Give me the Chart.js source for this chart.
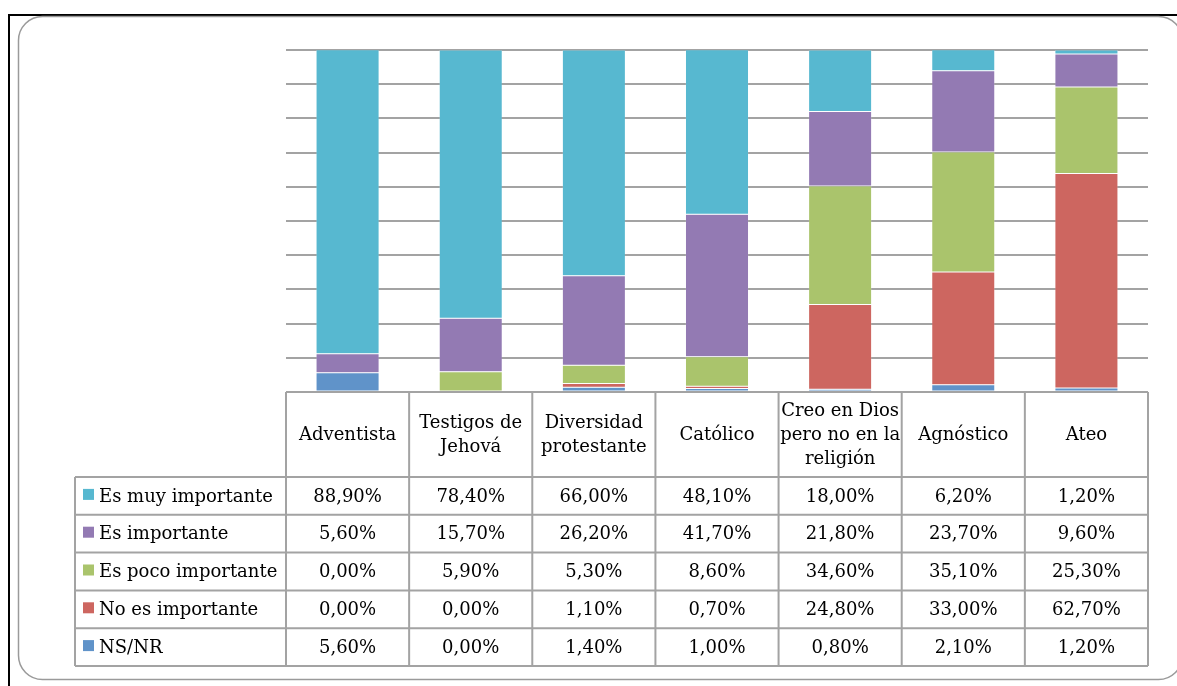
<!DOCTYPE html>
<html lang="es">
<head>
<meta charset="UTF-8">
<title>Importancia de la religión</title>
<script src="https://cdn.jsdelivr.net/npm/chart.js@4"></script>
<style>
  * { margin: 0; padding: 0; }
  body { background: #fff; width: 1177px; height: 686px; overflow: hidden; }
  #wrap { position: relative; width: 1177px; height: 686px; }
</style>
</head>
<body>
<div id="wrap"><canvas id="chart" width="1177" height="686"></canvas></div>
<script>
// ---------- data ----------
const categories = [
  ['Adventista'],
  ['Testigos de', 'Jehová'],
  ['Diversidad', 'protestante'],
  ['Católico'],
  ['Creo en Dios', 'pero no en la', 'religión'],
  ['Agnóstico'],
  ['Ateo'],
];
const muyImportante  = [88.9, 78.4, 66.0, 48.1, 18.0, 6.2, 1.2];
const importante     = [5.6, 15.7, 26.2, 41.7, 21.8, 23.7, 9.6];
const pocoImportante = [0.0, 5.9, 5.3, 8.6, 34.6, 35.1, 25.3];
const noImportante   = [0.0, 0.0, 1.1, 0.7, 24.8, 33.0, 62.7];
const nsnr           = [5.6, 0.0, 1.4, 1.0, 0.8, 2.1, 1.2];

const seriesLabels = ['Es muy importante', 'Es importante', 'Es poco importante', 'No es importante', 'NS/NR'];
const seriesData   = [muyImportante, importante, pocoImportante, noImportante, nsnr];
const seriesColors = ['#57b8d0', '#937ab3', '#aac46c', '#cd6660', '#6093c9'];

const FONT = '18px "DejaVu Serif", serif';
const LINE = '#a3a3a3';

const fmt = v => v.toFixed(2).replace('.', ',') + '%';

// stacked bottom -> top is reverse of table order
const datasets = seriesLabels.map((label, i) => ({
  label,
  data: seriesData[i],
  backgroundColor: seriesColors[i],
  borderColor: 'rgba(255,255,255,0.35)',
  borderWidth: 0.5,
  borderSkipped: false,
  categoryPercentage: 1,
  barPercentage: 0.512,
})).reverse();

// ---------- frame + data table plugin ----------
const tablePlugin = {
  id: 'dataTable',
  beforeDraw(chart) {
    const ctx = chart.ctx;
    ctx.save();
    ctx.fillStyle = '#fff';
    ctx.fillRect(0, 0, chart.width, chart.height);
    // outer black frame (top + left)
    ctx.strokeStyle = '#000';
    ctx.lineWidth = 2;
    ctx.beginPath();
    ctx.moveTo(9, 686); ctx.lineTo(9, 15); ctx.lineTo(1177, 15);
    ctx.stroke();
    // grey rounded border
    ctx.strokeStyle = '#9a9a9a';
    ctx.lineWidth = 1.5;
    ctx.beginPath();
    ctx.roundRect(18.5, 16.5, 1164, 663, 24);
    ctx.stroke();
    ctx.restore();
  },
  afterDraw(chart) {
    const ctx = chart.ctx;
    const xs = chart.scales.x;
    const area = chart.chartArea;
    const n = categories.length;
    const colW = (area.right - area.left) / n;
    const edges = [];
    for (let i = 0; i <= n; i++) edges.push(area.left + i * colW);

    const headTop = area.bottom;
    const headBot = 477;
    const rowH = 37.8;
    const rowTops = seriesLabels.map((_, r) => headBot + r * rowH);
    const tableBot = headBot + seriesLabels.length * rowH;
    const legLeft = 75;

    ctx.save();
    ctx.strokeStyle = LINE;
    ctx.lineWidth = 2;
    ctx.beginPath();
    // horizontal lines
    ctx.moveTo(area.left, headTop); ctx.lineTo(area.right, headTop);
    for (let r = 0; r <= seriesLabels.length; r++) {
      const y = headBot + r * rowH;
      ctx.moveTo(legLeft, y); ctx.lineTo(area.right, y);
    }
    // vertical lines
    edges.forEach(x => { ctx.moveTo(x, headTop); ctx.lineTo(x, tableBot); });
    ctx.moveTo(legLeft, headBot); ctx.lineTo(legLeft, tableBot);
    ctx.stroke();

    ctx.fillStyle = '#000';
    ctx.font = FONT;
    ctx.textAlign = 'center';
    ctx.textBaseline = 'middle';

    // header labels
    const headMid = (headTop + headBot) / 2 + 1;
    categories.forEach((lines, i) => {
      const cx = xs.getPixelForValue(i);
      const lh = 24;
      const y0 = headMid - (lines.length - 1) * lh / 2;
      lines.forEach((t, k) => ctx.fillText(t, cx, y0 + k * lh));
    });

    // rows
    seriesLabels.forEach((label, r) => {
      const cy = rowTops[r] + rowH / 2 + 1;
      ctx.fillStyle = seriesColors[r];
      ctx.fillRect(83, cy - 8, 11, 11);
      ctx.fillStyle = '#000';
      ctx.textAlign = 'left';
      ctx.fillText(label, 99, cy);
      ctx.textAlign = 'center';
      seriesData[r].forEach((v, i) => {
        ctx.fillText(fmt(v), xs.getPixelForValue(i), cy);
      });
    });
    ctx.restore();
  }
};

new Chart(document.getElementById('chart'), {
  type: 'bar',
  data: { labels: categories.map(c => c.join(' ')), datasets },
  options: {
    responsive: false,
    animation: false,
    events: [],
    layout: { padding: { left: 286, right: 29, top: 50, bottom: 294 } },
    plugins: { legend: { display: false }, tooltip: { enabled: false } },
    scales: {
      x: {
        display: false,
        stacked: true,
      },
      y: {
        stacked: true,
        min: 0,
        max: 100,
        ticks: { display: false, stepSize: 10 },
        border: { display: false },
        grid: { color: LINE, lineWidth: 2, drawTicks: false },
        afterFit(s) { s.width = 0; },
      },
    },
  },
  plugins: [tablePlugin],
});
</script>
</body>
</html>
